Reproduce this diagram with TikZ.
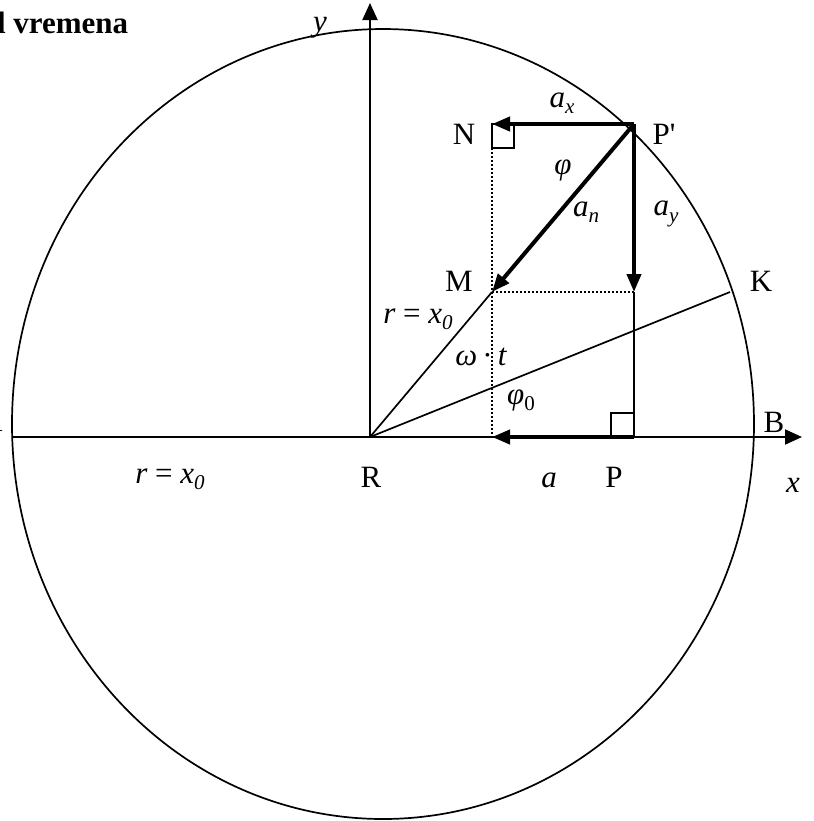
\documentclass[tikz,border=0pt]{standalone}
\usepackage{fontspec}
\setmainfont{Liberation Serif}
\usetikzlibrary{arrows.meta}
\newcommand{\idx}[1]{\raisebox{-0.45ex}{\fontsize{10.5}{10.5}\selectfont #1}}

\begin{document}
\begin{tikzpicture}[x=0.5pt,y=-0.5pt,
  font=\fontsize{15.5}{18}\selectfont,
  lbl/.style={inner sep=0pt},
  axis/.style={line width=1pt,-{Triangle[length=8.5pt,width=7.5pt]}},
  vec/.style={line width=2pt,-{Triangle[length=9pt,width=7pt]}},
  thinline/.style={line width=0.85pt},
  dots/.style={line width=0.75pt,dash pattern=on 1pt off 1pt},
]
  \useasboundingbox (0,0) rectangle (814,821);

  % points
  \coordinate (R) at (370,437);
  \coordinate (Pp) at (634,124);
  \coordinate (N) at (492,124);
  \coordinate (M) at (492,292);
  \coordinate (Q) at (634,292);
  \coordinate (P) at (634,437);
  \coordinate (S) at (492,437);
  \coordinate (K) at (730,292);
  \coordinate (A) at (12,437);
  \coordinate (B) at (802,437);
  \coordinate (Y) at (370,3);

  % circle and axes
  \draw[thinline] (383,424) ellipse [x radius=371, y radius=395];
  \draw[axis] (A) -- (B);
  \draw[axis] (R) -- (Y);

  % radii and projections
  \draw[thinline] (R) -- (M);
  \draw[thinline] (R) -- (K);
  \draw[thinline] (Q) -- (P);
  \draw[dots] (N) -- (S);
  \draw[dots] (M) -- (Q);
  \draw[thinline] (N) rectangle ++(22,24);
  \draw[thinline] (P) rectangle ++(-23,-24);

  % vectors
  \draw[vec] (Pp) -- (N);
  \draw[vec] (Pp) -- (Q);
  \draw[vec] (Pp) -- (M);
  \draw[vec] (P) -- (S);

  % labels
  \node[lbl,anchor=base west,font=\fontsize{15.5}{18}\selectfont\bfseries] (title) at (-12,33) {d vremena};
  \node[lbl,anchor=base east] (lA) at (3,431) {A};
  \node[lbl] (ly) at (320,28) {\itshape y};
  \node[lbl] (lN) at (464,134) {N};
  \node[lbl] (lPp) at (664,134) {P\textquotesingle};
  \node[lbl] (lax) at (562,103) {\itshape a\idx{x}};
  \node[lbl] (lphi) at (563,170) {\itshape φ};
  \node[lbl] (lan) at (586,212) {\itshape a\idx{n}};
  \node[lbl] (lay) at (666,214) {\itshape a\idx{y}};
  \node[lbl] (lM) at (459,281) {M};
  \node[lbl] (lK) at (761,281) {K};
  \node[lbl] (lr1) at (418,319) {\itshape r \upshape = \itshape x\idx{0}};
  \node[lbl] (lwt) at (481,357) {\itshape ω\,\upshape·\,\itshape t};
  \node[lbl] (lphi0) at (521,400) {\itshape φ\upshape\idx{0}};
  \node[lbl] (lR) at (371,477) {R};
  \node[lbl] (lr2) at (170,479) {\itshape r \upshape = \itshape x\idx{0}};
  \node[lbl] (la) at (549,480) {\itshape a};
  \node[lbl] (lP) at (614,477) {P};
  \node[lbl] (lB) at (774,422) {B};
  \node[lbl] (lx) at (793,485) {\itshape x};
\end{tikzpicture}
\end{document}
